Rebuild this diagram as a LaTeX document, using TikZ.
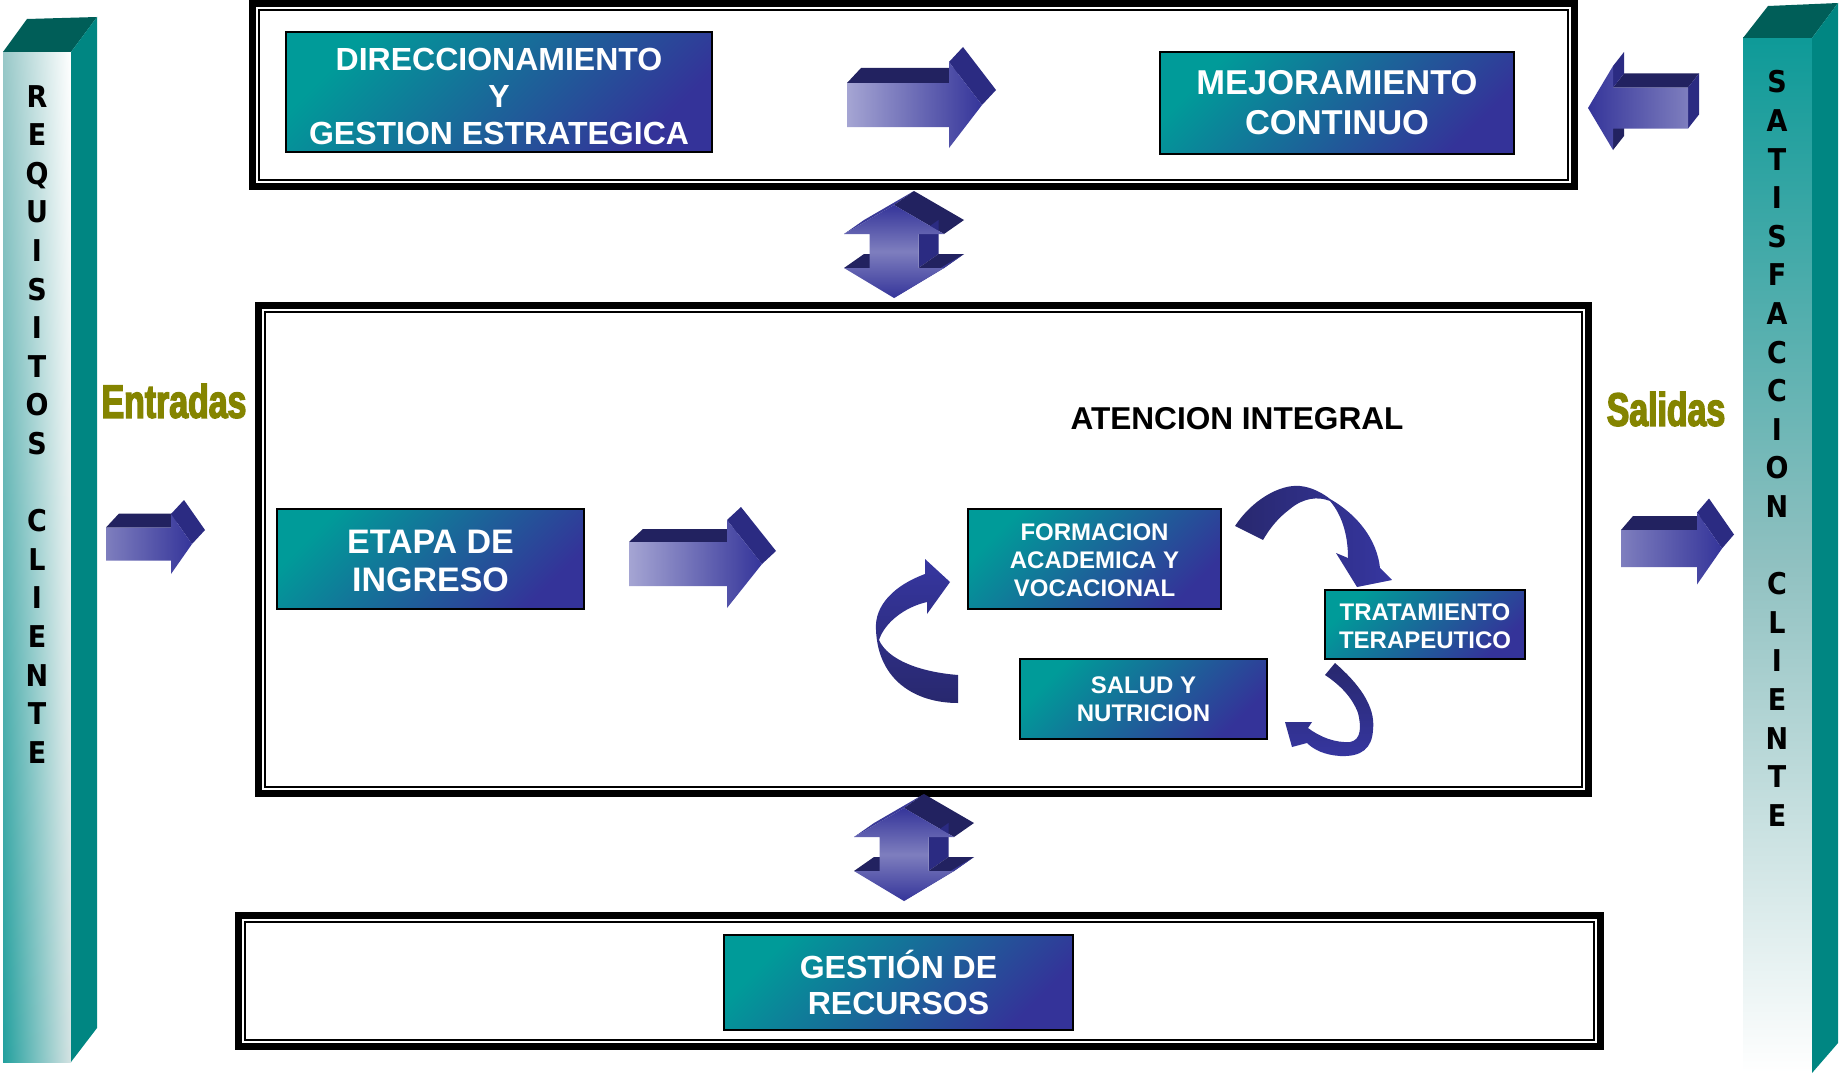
\documentclass[tikz,border=0pt]{standalone}
\usepackage{fontspec}
\setmainfont{Liberation Sans}
\newfontfamily\pillarfont[FakeStretch=0.9]{DejaVu Sans}
\newfontfamily\narrowfont[FakeStretch=0.72,FakeBold=3]{Liberation Sans}
\usetikzlibrary{shadings}
\definecolor{boxteal}{HTML}{009B99}
\definecolor{boxblue}{HTML}{343399}
\definecolor{arrowtop}{HTML}{222260}
\definecolor{arrowside}{HTML}{2B2B82}
\definecolor{arrowslim}{HTML}{3A3A98}
\definecolor{arrowdeep}{HTML}{35359A}
\definecolor{arrowlight}{HTML}{A5A5D3}
\definecolor{arrowmid}{HTML}{7E7EBE}
\definecolor{pillartop}{HTML}{005E58}
\definecolor{pillarside}{HTML}{008682}
\definecolor{pilUL}{HTML}{98C8C8}
\definecolor{pilLL}{HTML}{22A09E}
\definecolor{pilLR}{HTML}{D5E3E3}
\definecolor{pilTop}{HTML}{0E9A98}
\definecolor{pilMid}{HTML}{8EC0C0}
\definecolor{olivetext}{HTML}{848400}
\definecolor{curveA}{HTML}{28286E}
\definecolor{curveB}{HTML}{3636A0}

% right-pointing 3D block arrow: x0,x1,x2,yc,sh,hh,ox,oy,lightcolor
\newcommand{\rightblock}[9]{%
  \fill[arrowtop] (#1,#4-#5) -- (#1+#7,#4-#5-#8) -- (#2+#7,#4-#5-#8) -- (#2,#4-#5) -- cycle;
  \fill[arrowside] (#2,#4-#6) -- (#2+#7,#4-#6-#8) -- (#3+#7,#4-#8) -- (#3,#4) -- cycle;
  \shade[left color=#9, right color=arrowdeep] (#1,#4-#5) -- (#2,#4-#5) -- (#2,#4-#6) -- (#3,#4) -- (#2,#4+#6) -- (#2,#4+#5) -- (#1,#4+#5) -- cycle;
}
% left-pointing 3D block arrow: x0(right end),x1(head base),x2(tip),yc,sh,hh,ox,oy,lightcolor
\newcommand{\leftblock}[9]{%
  \fill[arrowtop] (#2,#4-#5) -- (#2+#7,#4-#5-#8) -- (#1+#7,#4-#5-#8) -- (#1,#4-#5) -- cycle;
  \fill[arrowside] (#1,#4-#5) -- (#1+#7,#4-#5-#8) -- (#1+#7,#4+#5-#8) -- (#1,#4+#5) -- cycle;
  \fill[arrowside] (#2,#4-#6) -- (#2+#7,#4-#6-#8) -- (#2+#7,#4-#5-#8) -- (#2,#4-#5) -- cycle;
  \fill[arrowtop] (#2,#4+#5) -- (#2+#7,#4+#5-#8) -- (#2+#7,#4+#6-#8) -- (#2,#4+#6) -- cycle;
  \shade[left color=arrowdeep, right color=#9] (#1,#4-#5) -- (#2,#4-#5) -- (#2,#4-#6) -- (#3,#4) -- (#2,#4+#6) -- (#2,#4+#5) -- (#1,#4+#5) -- cycle;
}
% vertical double 3D arrow: cx,ya,yb,yc,yd,hw,sw,ox,oy
\newcommand{\updownblock}[9]{%
  \fill[arrowslim] (#1-#6,#3) -- (#1-#6+#8,#3-#9) -- (#1+#8,#2-#9) -- (#1,#2) -- cycle;
  \fill[arrowtop] (#1,#2) -- (#1+#8,#2-#9) -- (#1+#6+#8,#3-#9) -- (#1+#6,#3) -- cycle;
  \fill[arrowside] (#1+#7,#3) -- (#1+#7+#8,#3-#9) -- (#1+#7+#8,#4-#9) -- (#1+#7,#4) -- cycle;
  \fill[arrowtop] (#1+#7,#4) -- (#1+#6,#4) -- (#1+#6+#8,#4-#9) -- (#1+#7+#8,#4-#9) -- cycle;
  \fill[arrowtop] (#1-#6,#4) -- (#1-#7,#4) -- (#1-#7+#8,#4-#9) -- (#1-#6+#8,#4-#9) -- cycle;
  \fill[arrowslim] (#1+#6,#4) -- (#1+#6+#8,#4-#9) -- (#1+#8,#5-#9) -- (#1,#5) -- cycle;
  \shade[top color=arrowdeep, bottom color=arrowdeep, middle color=arrowmid] (#1,#2) -- (#1+#6,#3) -- (#1+#7,#3) -- (#1+#7,#4) -- (#1+#6,#4) -- (#1,#5) -- (#1-#6,#4) -- (#1-#7,#4) -- (#1-#7,#3) -- (#1-#6,#3) -- cycle;
}
% double-line frame: outer x1,y1,x2,y2
\newcommand{\dblframe}[4]{%
  \draw[line width=7] (#1+3.5,#2+3.5) rectangle (#3-3.5,#4-3.5);
  \draw[line width=2] (#1+10,#2+10) rectangle (#3-10,#4-10);
}

\begin{document}
\begin{tikzpicture}[x=1pt,y=-1pt,
  procbox/.style={draw=black, line width=1.8, top color=boxteal, bottom color=boxblue, shading angle=45,
    text=white, align=center, inner sep=0pt},
  pillartext/.style={align=center, inner sep=0pt, anchor=north, text=black,
    font=\pillarfont\bfseries\fontsize{30}{38.6}\selectfont},
  sidelabel/.style={inner sep=0pt, text=olivetext, font=\narrowfont\bfseries\fontsize{47}{50}\selectfont}
]
\useasboundingbox (0,0) rectangle (1839,1073);
\fill[white] (0,0) rectangle (1839,1073);

% ---------- pillars ----------
\shade[upper left=pilUL, upper right=white, lower left=pilLL, lower right=pilLR] (3,52) rectangle (71,1062);
\fill[pillartop] (3,52) -- (27,19) -- (97,17) -- (71,52) -- cycle;
\fill[pillarside] (71,52) -- (97,17) -- (97,1028) -- (71,1062) -- cycle;
\node[pillartext] (req) at (37,85) {R\\E\\Q\\U\\I\\S\\I\\T\\O\\S\\[38.6pt]C\\L\\I\\E\\N\\T\\E};

\shade[top color=pilTop, bottom color=white, middle color=pilMid] (1743,38) rectangle (1812,1073);
\fill[pillartop] (1743,38) -- (1768,6) -- (1838,3) -- (1812,38) -- cycle;
\fill[pillarside] (1812,38) -- (1838,3) -- (1838,1043) -- (1812,1073) -- cycle;
\node[pillartext] (sat) at (1777,70.5) {S\\A\\T\\I\\S\\F\\A\\C\\C\\I\\O\\N\\[38.6pt]C\\L\\I\\E\\N\\T\\E};

% ---------- frames ----------
\dblframe{249}{0}{1578}{190}
\dblframe{255}{302}{1592}{797}
\dblframe{235}{912}{1604}{1050}

% ---------- top frame ----------
\node[procbox, minimum width=426, minimum height=120, font=\bfseries\fontsize{32}{37}\selectfont] (dir) at (499,92) {\rule{0pt}{32pt}DIRECCIONAMIENTO\\Y\\GESTION ESTRATEGICA};
\node[procbox, minimum width=354, minimum height=102, font=\bfseries\fontsize{34.5}{40}\selectfont] (mej) at (1337,103) {MEJORAMIENTO\\CONTINUO};
\rightblock{847}{949}{982}{105}{22}{43}{14}{15}{arrowlight}
\leftblock{1688}{1613}{1588}{108}{20.5}{42}{11}{14}{arrowmid}

% ---------- vertical double arrows ----------
\updownblock{894}{205}{234}{268}{298}{50}{24.5}{20}{14}
\updownblock{904}{808}{837}{871}{901}{50}{24.5}{20}{14}

% ---------- middle frame ----------
\node[procbox, minimum width=307, minimum height=100, font=\bfseries\fontsize{34}{38}\selectfont] (etapa) at (430.5,559) {\rule{0pt}{28pt}ETAPA DE\\INGRESO};
\rightblock{629}{727}{762}{564}{22}{44}{14}{13}{arrowlight}
\node[font=\bfseries\fontsize{31.6}{36}\selectfont, inner sep=0pt] (aten) at (1237,419) {ATENCION INTEGRAL};

\node[procbox, minimum width=253, minimum height=100, font=\bfseries\fontsize{24}{28}\selectfont] (form) at (1094.5,559) {\rule{0pt}{20pt}FORMACION\\ACADEMICA Y\\VOCACIONAL};
\node[procbox, minimum width=200, minimum height=69, font=\bfseries\fontsize{24}{28}\selectfont] (trat) at (1425,624.5) {\rule{0pt}{20pt}TRATAMIENTO\\TERAPEUTICO};
\node[procbox, minimum width=247, minimum height=80, font=\bfseries\fontsize{24}{28}\selectfont] (salud) at (1143.5,699) {SALUD Y\\NUTRICION};

% cycle arrows
\shade[left color=curveA, right color=curveB]
  (1235,526) .. controls (1252,500) and (1280,484) .. (1300,486)
  .. controls (1312,487) and (1324,494) .. (1330,499)
  .. controls (1358,515) and (1377,540) .. (1380,568)
  -- (1392,580) -- (1357,587) -- (1336,553) -- (1348,558)
  .. controls (1348,535) and (1342,515) .. (1330,501)
  .. controls (1318,496) and (1303,498) .. (1290,509)
  .. controls (1278,518) and (1270,528) .. (1263,540) -- cycle;
\shade[top color=curveA, bottom color=curveB]
  (1335,663) .. controls (1358,683) and (1376,706) .. (1373,730)
  .. controls (1372,748) and (1362,757) .. (1340,756)
  .. controls (1325,755) and (1314,750) .. (1307,743)
  -- (1292,747) -- (1285,722) -- (1312,722) -- (1308,728)
  .. controls (1320,737) and (1335,743) .. (1350,742)
  .. controls (1362,740) and (1361,725) .. (1358,713)
  .. controls (1352,697) and (1340,685) .. (1325,675) -- cycle;
\shade[top color=curveB, bottom color=curveA]
  (958,675) .. controls (920,672) and (888,660) .. (879,640)
  .. controls (885,622) and (905,607) .. (927,602)
  -- (927,614) -- (950,582) -- (925,559) -- (925,574)
  .. controls (895,585) and (874,605) .. (876,630)
  .. controls (878,680) and (915,703) .. (958,703) -- cycle;

% ---------- bottom frame ----------
\node[procbox, minimum width=349, minimum height=95, font=\bfseries\fontsize{32}{36}\selectfont] (gest) at (898.5,982.5) {GESTIÓN DE\\RECURSOS};

% ---------- inputs / outputs ----------
\node[sidelabel] (ent) at (174,401) {Entradas};
\rightblock{106}{171}{192}{544}{16.5}{30}{13}{14}{arrowmid}
\node[sidelabel] (sal) at (1666,409) {Salidas};
\rightblock{1621}{1697}{1722}{548.5}{18.5}{36}{12}{14}{arrowmid}
\end{tikzpicture}
\end{document}
